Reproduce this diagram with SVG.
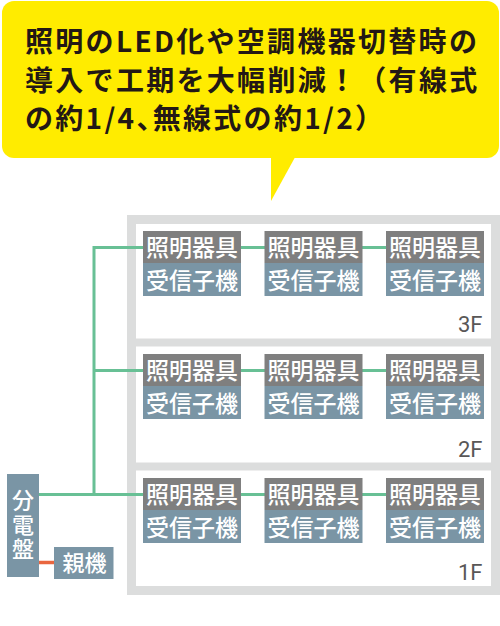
<svg xmlns="http://www.w3.org/2000/svg" width="500" height="626" viewBox="0 0 500 626">
<style>
.head{font-family:"Noto Sans CJK JP","Noto Sans",sans-serif;font-weight:700;font-size:28px;fill:#231815;letter-spacing:2.3px}
.jp{font-family:"Noto Sans CJK JP","Noto Sans",sans-serif;font-weight:500;font-size:23px;fill:#ffffff;text-anchor:middle}
.jp2{font-family:"Noto Sans CJK JP","Noto Sans",sans-serif;font-weight:500;font-size:22px;fill:#ffffff;text-anchor:middle}
.fl{font-family:Roboto,"Noto Sans",sans-serif;font-size:22px;fill:#595757;text-anchor:end}
.lamp{fill:#7f7f7f}
.recv{fill:#7a95a5}
.green{stroke:#68c095;stroke-width:3;fill:none}
</style>
<defs>
<g id="dev">
<rect class="lamp" x="0" y="0" width="98" height="32"/>
<rect class="recv" x="0" y="32" width="98" height="33"/>
<text class="jp" x="49" y="24.5">照明器具</text>
<text class="jp" x="49" y="57.5">受信子機</text>
</g>
</defs>
<g id="bubble">
<rect x="2" y="1" width="497" height="157" rx="12" fill="#ffec00"/>
<polygon points="271,150 299,150 271,201" fill="#ffec00"/>
<text class="head" x="25" y="52">照明のLED化や空調機器切替時の</text>
<text class="head" x="25" y="90.5">導入で工期を大幅削減！（有線式</text>
<text class="head" x="25" y="129">の約1/4、<tspan dx="-14">無線式の約1/2）</tspan></text>
</g>
<g id="building">
<rect x="127" y="215" width="373" height="380" fill="#dcdddd"/>
<rect x="136" y="224" width="355" height="114.5" fill="#ffffff"/>
<rect x="136" y="346.5" width="355" height="116" fill="#ffffff"/>
<rect x="136" y="470.5" width="355" height="115.5" fill="#ffffff"/>
<text class="fl" x="482.5" y="332">3F</text>
<text class="fl" x="482.5" y="456.5">2F</text>
<text class="fl" x="482.5" y="580">1F</text>
</g>
<g id="connectors">
<polyline class="green" points="143,247.5 94,247.5 94,494.5"/>
<line class="green" x1="94" y1="370.5" x2="143" y2="370.5"/>
<line class="green" x1="39" y1="494.5" x2="143" y2="494.5"/>
<line class="green" x1="241" y1="247.5" x2="265" y2="247.5"/>
<line class="green" x1="362" y1="247.5" x2="386" y2="247.5"/>
<line class="green" x1="241" y1="370.5" x2="265" y2="370.5"/>
<line class="green" x1="362" y1="370.5" x2="386" y2="370.5"/>
<line class="green" x1="241" y1="494.5" x2="265" y2="494.5"/>
<line class="green" x1="362" y1="494.5" x2="386" y2="494.5"/>
<line x1="39" y1="562.5" x2="54" y2="562.5" stroke="#e9663f" stroke-width="3.5"/>
</g>
<g id="dev-3f-1"><use href="#dev" x="143" y="231"/></g>
<g id="dev-3f-2"><use href="#dev" x="264.5" y="231"/></g>
<g id="dev-3f-3"><use href="#dev" x="386" y="231"/></g>
<g id="dev-2f-1"><use href="#dev" x="143" y="354"/></g>
<g id="dev-2f-2"><use href="#dev" x="264.5" y="354"/></g>
<g id="dev-2f-3"><use href="#dev" x="386" y="354"/></g>
<g id="dev-1f-1"><use href="#dev" x="143" y="478"/></g>
<g id="dev-1f-2"><use href="#dev" x="264.5" y="478"/></g>
<g id="dev-1f-3"><use href="#dev" x="386" y="478"/></g>
<g id="panel">
<rect class="recv" x="7" y="474" width="32" height="103"/>
<text class="jp2" x="23" y="507.5">分</text>
<text class="jp2" x="23" y="532.5">電</text>
<text class="jp2" x="23" y="557">盤</text>
</g>
<g id="parent">
<rect class="recv" x="54" y="547" width="59.5" height="32"/>
<text class="jp2" x="84.5" y="571">親機</text>
</g>
</svg>
